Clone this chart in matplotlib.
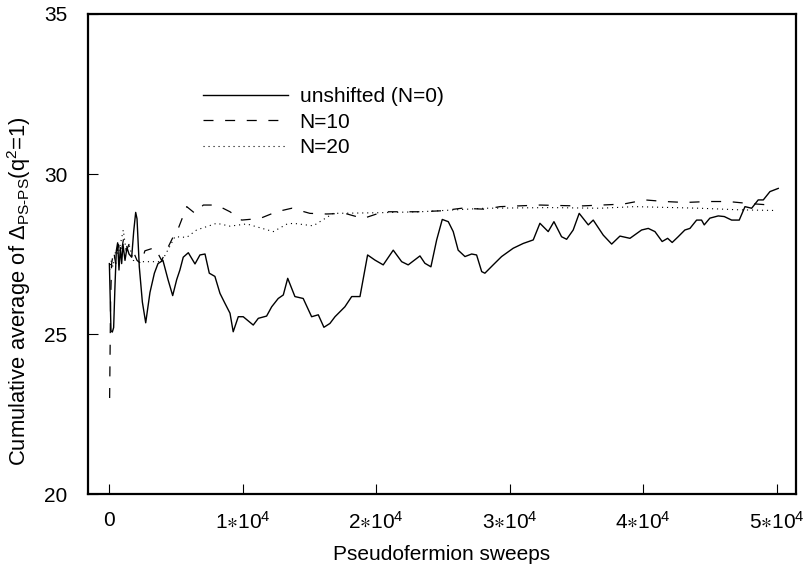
import numpy as np
import matplotlib
matplotlib.use('Agg')
import matplotlib.pyplot as plt
import matplotlib.ticker as ticker

plt.rcParams['font.family'] = ['Liberation Sans', 'DejaVu Sans']
plt.rcParams['font.size'] = 15
plt.rcParams['mathtext.fontset'] = 'custom'
plt.rcParams['mathtext.rm'] = 'Liberation Sans'
plt.rcParams['mathtext.it'] = 'Liberation Sans'
plt.rcParams['mathtext.fallback'] = 'stixsans'

## cumulative averages
# unshifted (N=0)
x_n0 = [30, 100, 150, 250, 350, 450, 550, 650, 750, 850, 950, 1050, 1200, 1350, 1500,
        1700, 1850, 2000, 2100, 2270, 2500, 2750, 3070, 3400, 3670, 4040, 4420, 4770,
        5070, 5310, 5560, 5940, 6440, 6810, 7190, 7510, 7930, 8310, 8680, 9060, 9300,
        9680, 10050, 10800, 11180, 11800, 12180, 12670, 13050, 13380, 13920, 14540,
        15170, 15670, 16090, 16540, 16920, 17660, 18170, 18790, 19360, 19910, 20530,
        21280, 21910, 22400, 23280, 23650, 24100, 24530, 24950, 25400, 25770, 26140,
        26650, 27150, 27520, 27900, 28140, 28760, 29390, 30260, 31010, 31760, 32260,
        32880, 33310, 33880, 34260, 34750, 35200, 35880, 36250, 37000, 37630, 38250,
        39000, 39870, 40370, 40870, 41410, 41820, 42160, 42610, 43110, 43490, 43990,
        44360, 44560, 44980, 45610, 46060, 46610, 47180, 47610, 48110, 48600, 48980,
        49480, 50100]
y_n0 = [27.2, 26.0, 25.1, 25.06, 25.2, 26.5, 27.6, 27.85, 27.0, 27.7, 27.2, 27.8, 27.3,
        27.7, 27.5, 27.4, 28.2, 28.8, 28.6, 27.1, 26.0, 25.35, 26.3, 26.9, 27.2, 27.3,
        26.7, 26.2, 26.7, 27.0, 27.4, 27.54, 27.19, 27.47, 27.5, 26.9, 26.8, 26.27,
        25.96, 25.65, 25.07, 25.54, 25.54, 25.28, 25.49, 25.56, 25.85, 26.11, 26.22,
        26.74, 26.17, 26.11, 25.54, 25.6, 25.21, 25.33, 25.54, 25.85, 26.17, 26.17,
        27.47, 27.31, 27.16, 27.62, 27.26, 27.16, 27.44, 27.21, 27.1, 27.94, 28.58,
        28.51, 28.2, 27.62, 27.42, 27.5, 27.47, 26.95, 26.9, 27.16, 27.42, 27.68,
        27.83, 27.94, 28.46, 28.2, 28.51, 28.04, 27.96, 28.25, 28.77, 28.41, 28.56,
        28.09, 27.81, 28.06, 27.99, 28.25, 28.3, 28.2, 27.89, 27.99, 27.86, 28.04,
        28.25, 28.3, 28.56, 28.56, 28.41, 28.62, 28.69, 28.67, 28.56, 28.56, 28.98,
        28.93, 29.19, 29.19, 29.45, 29.55]

# N=10
x_n10 = [50, 120, 200, 350, 500, 700, 900, 1100, 1300, 1500, 1800, 2100, 2400, 2690,
         3440, 3940, 4810, 5190, 5820, 6440, 7060, 8060, 9060, 9930, 11300, 12550,
         13680, 15040, 16290, 17660, 19030, 20530, 23150, 24900, 26400, 28140, 29270,
         32260, 35250, 38500, 40120, 41620, 43110, 44860, 46350, 47850, 49850]
y_n10 = [23.0, 26.0, 27.2, 27.6, 27.2, 27.8, 27.5, 28.0, 27.6, 27.8, 27.6, 27.3, 27.2,
         27.6, 27.7, 27.3, 28.04, 28.3, 28.98, 28.77, 29.03, 29.03, 28.82, 28.56,
         28.61, 28.82, 28.93, 28.77, 28.75, 28.77, 28.61, 28.82, 28.82, 28.85, 28.93,
         28.9, 28.98, 29.03, 29.0, 29.06, 29.19, 29.14, 29.11, 29.14, 29.14, 29.08,
         29.02]

# N=20
x_n20 = [50, 150, 300, 500, 700, 900, 1070, 1250, 1500, 1820, 2320, 3940, 4940, 5820,
         6560, 8060, 9060, 10310, 12300, 13300, 13790, 15290, 16790, 20280, 23280,
         28140, 33010, 36750, 39370, 44240, 47230, 49850]
y_n20 = [27.0, 27.3, 27.1, 27.6, 27.5, 27.9, 28.25, 27.7, 27.8, 27.3, 27.26, 27.26,
         28.04, 28.02, 28.25, 28.46, 28.37, 28.44, 28.2, 28.43, 28.46, 28.38, 28.77,
         28.79, 28.82, 28.93, 28.95, 28.93, 28.98, 28.93, 28.88, 28.86]

xticks = [0, 10000, 20000, 30000, 40000, 50000]
xticklabels = ['0', r'$1{\ast}10^{4}$', r'$2{\ast}10^{4}$', r'$3{\ast}10^{4}$',
               r'$4{\ast}10^{4}$', r'$5{\ast}10^{4}$']
yticks = [20, 25, 30, 35]

fig = plt.figure(figsize=(8.08, 5.69), dpi=100)
ax = fig.add_axes([0.1089, 0.1318, 0.8761, 0.8436])

ax.plot(x_n0, y_n0, color='black', lw=1.0, label='unshifted (N=0)')
ax.plot(x_n10, y_n10, color='black', lw=0.9, linestyle=(0, (8, 9.3)), label='N=10')
ax.plot(x_n20, y_n20, color='black', lw=0.8, linestyle=(0, (1, 3.5)), label='N=20')

ax.set_xlim(-1570, 51420)
ax.set_ylim(20, 35)
ax.set_xticks(xticks)
ax.set_xticklabels(xticklabels)
ax.set_yticks(yticks)
ax.tick_params(direction='in', length=7, width=0.8, top=False, right=False)
ax.tick_params(axis='x', pad=12)
ax.tick_params(axis='y', pad=15)

for sp in ax.spines.values():
    sp.set_linewidth(1.6)

ax.set_xlabel('Pseudofermion sweeps', labelpad=9)
ax.set_ylabel('Cumulative average of $\\Delta_{\\mathrm{PS\u2010PS}}$(q$^{2}$=1)',
              fontsize=15.8)
ax.yaxis.set_label_coords(-0.078, 0.423)

ax.legend(loc='upper left', bbox_to_anchor=(0.162, 0.848), frameon=False,
          handlelength=4.1, handletextpad=0.55, labelspacing=0.32,
          borderpad=0, borderaxespad=0)

fig.savefig('out.png', dpi=100)
